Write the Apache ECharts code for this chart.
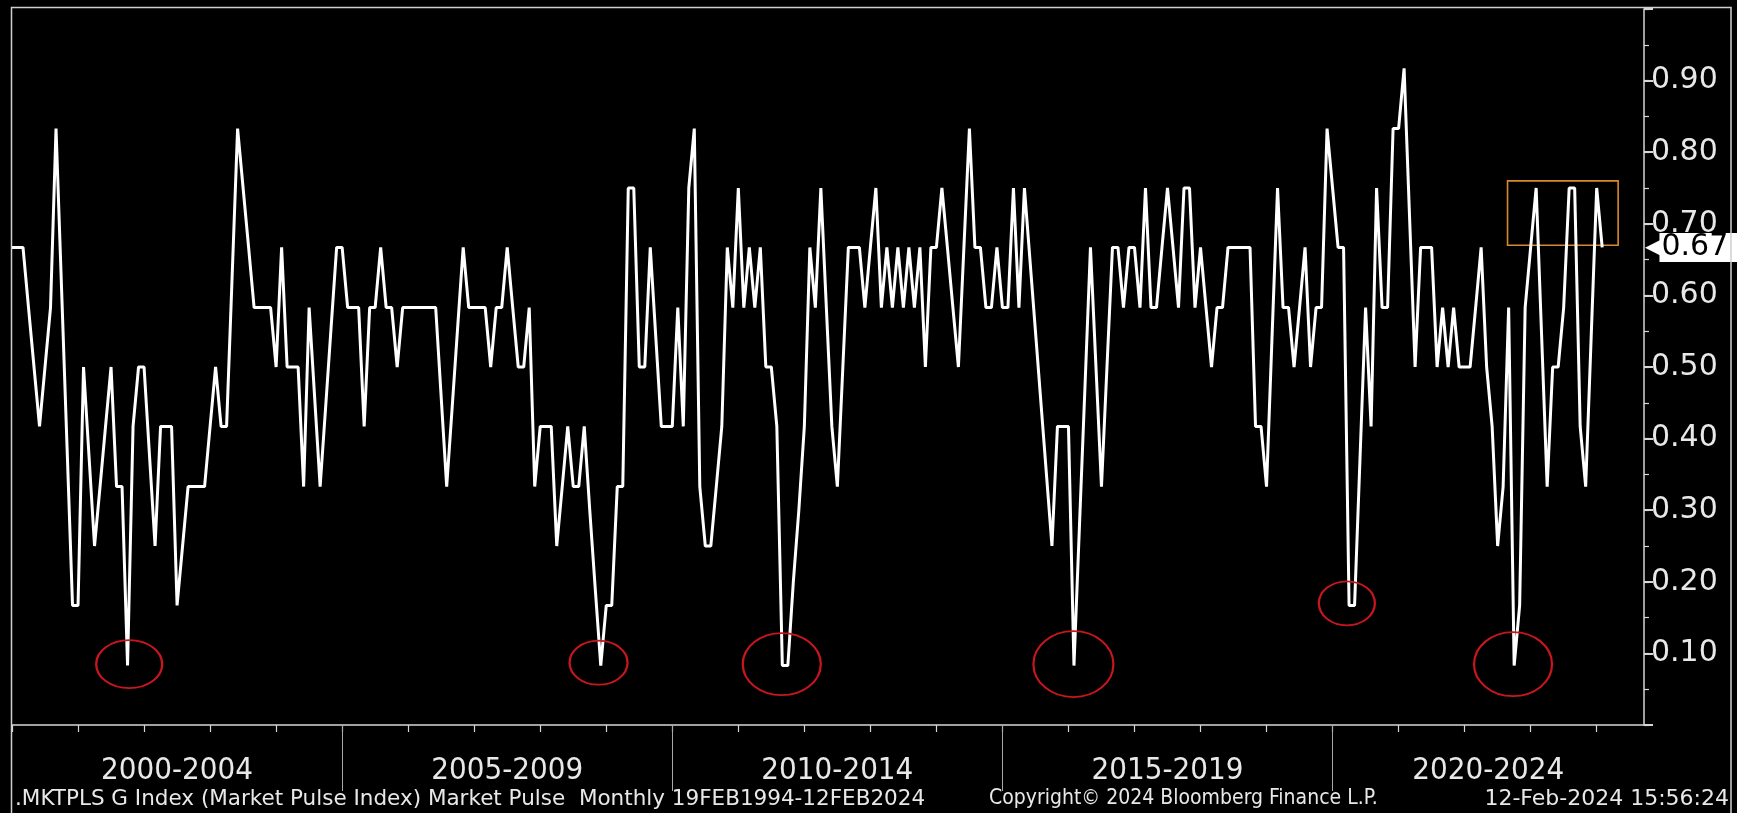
<!DOCTYPE html>
<html>
<head>
<meta charset="utf-8">
<script src="https://cdn.jsdelivr.net/npm/echarts@6/dist/echarts.min.js"></script>
<style>
html,body{margin:0;padding:0;background:#000;}
#c{width:1737px;height:813px;}
</style>
</head>
<body>
<div id="c"></div>
<script>
// Monthly Market Pulse Index readings, first value = Dec 1999, last = Jan 2024
const firstMonth = '1999-12';
const values = [
  0.667,0.667,0.667,0.583,0.5,0.417,0.5,0.583,0.833,0.611,0.389,0.167,0.167,
  0.5,0.375,0.25,0.333,0.417,0.5,0.333,0.333,0.083,0.417,0.5,0.5,
  0.375,0.25,0.417,0.417,0.417,0.167,0.25,0.333,0.333,0.333,0.333,0.417,
  0.5,0.417,0.417,0.625,0.833,0.75,0.667,0.583,0.583,0.583,0.583,0.5,
  0.667,0.5,0.5,0.5,0.333,0.583,0.458,0.333,0.444,0.556,0.667,0.667,
  0.583,0.583,0.583,0.417,0.583,0.583,0.667,0.583,0.583,0.5,0.583,0.583,
  0.583,0.583,0.583,0.583,0.583,0.458,0.333,0.444,0.556,0.667,0.583,0.583,
  0.583,0.583,0.5,0.583,0.583,0.667,0.583,0.5,0.5,0.583,0.333,0.417,
  0.417,0.417,0.25,0.333,0.417,0.333,0.333,0.417,0.3,0.19,0.083,0.167,
  0.167,0.333,0.333,0.75,0.75,0.5,0.5,0.667,0.542,0.417,0.417,0.417,
  0.583,0.417,0.75,0.833,0.333,0.25,0.25,0.333,0.417,0.667,0.583,0.75,
  0.583,0.667,0.583,0.667,0.5,0.5,0.417,0.083,0.083,0.2,0.3,0.417,
  0.667,0.583,0.75,0.583,0.417,0.333,0.5,0.667,0.667,0.667,0.583,0.667,
  0.75,0.583,0.667,0.583,0.667,0.583,0.667,0.583,0.667,0.5,0.667,0.667,
  0.75,0.667,0.583,0.5,0.667,0.833,0.667,0.667,0.583,0.583,0.667,0.583,
  0.583,0.75,0.583,0.75,0.65,0.55,0.45,0.35,0.25,0.417,0.417,0.417,
  0.083,0.278,0.472,0.667,0.5,0.333,0.5,0.667,0.667,0.583,0.667,0.667,
  0.583,0.75,0.583,0.583,0.667,0.75,0.667,0.583,0.75,0.75,0.583,0.667,
  0.583,0.5,0.583,0.583,0.667,0.667,0.667,0.667,0.667,0.417,0.417,0.333,
  0.542,0.75,0.583,0.583,0.5,0.583,0.667,0.5,0.583,0.583,0.833,0.75,
  0.667,0.667,0.167,0.167,0.375,0.583,0.417,0.75,0.583,0.583,0.833,0.833,
  0.917,0.708,0.5,0.667,0.667,0.667,0.5,0.583,0.5,0.583,0.5,0.5,
  0.5,0.583,0.667,0.5,0.417,0.25,0.333,0.583,0.083,0.167,0.583,0.667,
  0.75,0.542,0.333,0.5,0.5,0.583,0.75,0.75,0.417,0.333,0.542,0.75,
  0.667
];
// Period labels along the time axis and the month index (from Dec 1999) of each label centre
const periodLabels = ['2000-2004','2005-2009','2010-2014','2015-2019','2020-2024'];
const periodCentres = [30, 90, 150, 210, 268.3];
// Circled troughs: [month index, value]
const troughMarks = [[21.3,0.085],[106.6,0.087],[139.9,0.085],[192.9,0.085],[242.6,0.17],[272.8,0.085]];
const troughSizes = [[66,48],[58,44],[78,62],[80,66],[56,44],[78,64]];
// Highlighted recent range: [month from, month to, value low, value high]
const boxRange = [271.8, 291.9, 0.67, 0.76];

const footerLeft = '.MKTPLS G Index (Market Pulse Index) Market Pulse  Monthly 19FEB1994-12FEB2024';
const footerMid = 'Copyright\u00A9 2024 Bloomberg Finance L.P.';
const footerRight = '12-Feb-2024 15:56:24';

const lastValue = values[values.length - 1];
const yearTicks = [];
for (let m = 0; m <= 288; m += 12) yearTicks.push(m);
const dividerTicks = [60, 120, 180, 240];

const axisCol = '#D6D6D6';
const textCol = '#E8E8E8';
const condFont = '"DejaVu Sans Condensed", "DejaVu Sans", sans-serif';
const wideFont = '"DejaVu Sans", sans-serif';
const xMax = 296.6;

const chart = echarts.init(document.getElementById('c'), null, {renderer: 'canvas'});
chart.setOption({
  backgroundColor: '#000000',
  animation: false,
  grid: {left: 12, right: 93, top: 9, bottom: 88, containLabel: false, outerBoundsMode: 'none'},
  xAxis: [
    {
      type: 'value', min: 0, max: xMax, position: 'bottom',
      axisLine: {show: true, onZero: false, lineStyle: {color: axisCol, width: 1.5}},
      axisTick: {show: true, customValues: yearTicks, length: 7, inside: false, lineStyle: {color: axisCol, width: 1.2}},
      axisLabel: {
        show: true, customValues: periodCentres, margin: 30,
        color: textCol, fontSize: 31, fontFamily: condFont,
        formatter: function (v) {
          for (let k = 0; k < periodCentres.length; k++) {
            if (Math.abs(periodCentres[k] - v) < 0.5) return periodLabels[k];
          }
          return '';
        }
      },
      splitLine: {show: false}
    },
    {
      type: 'value', min: 0, max: xMax, position: 'bottom',
      axisLine: {show: false, onZero: false},
      axisTick: {show: true, customValues: dividerTicks, length: 66, lineStyle: {color: '#A8A8A8', width: 1}},
      axisLabel: {show: false},
      splitLine: {show: false}
    }
  ],
  yAxis: [
    {
      type: 'value', min: 0, max: 1, interval: 0.1, position: 'right',
      axisLine: {show: true, onZero: false, lineStyle: {color: axisCol, width: 1.5}},
      axisTick: {show: true, length: 9, lineStyle: {color: axisCol, width: 2}},
      minorTick: {show: false},
      axisLabel: {
        show: true, margin: 7, color: textCol, fontSize: 30, fontFamily: wideFont,
        formatter: function (v) { return (v > 0.001 && v < 0.999) ? v.toFixed(2) : ''; }
      },
      splitLine: {show: false}
    },
    {
      type: 'value', min: 0, max: 1, interval: 0.05, position: 'right',
      axisLine: {show: false, onZero: false},
      axisTick: {show: true, length: 5, lineStyle: {color: axisCol, width: 1.2}},
      axisLabel: {show: false},
      splitLine: {show: false}
    },
    {
      type: 'value', min: 0, max: 1, position: 'right',
      axisLine: {show: false, onZero: false}, axisTick: {show: false}, splitLine: {show: false},
      axisLabel: {
        show: true, customValues: [lastValue], margin: 1,
        formatter: function (v) { return '{a|\u25C0}{b|' + v.toFixed(2) + '}'; },
        rich: {
          a: {color: '#FFFFFF', fontSize: 24, fontFamily: wideFont, lineHeight: 29, padding: [0, -4, 0, 0]},
          b: {color: '#000000', backgroundColor: '#FFFFFF', fontSize: 30, fontFamily: wideFont, lineHeight: 29, height: 29, padding: [0, 24, 0, 2]}
        }
      }
    }
  ],
  series: [{
    type: 'line',
    xAxisIndex: 0, yAxisIndex: 0,
    data: values.map(function (v, i) { return [i, v]; }),
    showSymbol: false, symbol: 'none',
    lineStyle: {color: '#FFFFFF', width: 3},
    markArea: {
      silent: true,
      itemStyle: {color: 'rgba(0,0,0,0)', borderColor: '#D98A2B', borderWidth: 1.6},
      data: [[{coord: [boxRange[0], boxRange[3]]}, {coord: [boxRange[1], boxRange[2]]}]]
    },
    markPoint: {
      silent: true,
      symbol: 'circle',
      label: {show: false},
      itemStyle: {color: 'rgba(0,0,0,0)', borderColor: '#C8161E', borderWidth: 2},
      data: troughMarks.map(function (p, k) { return {coord: p, symbolSize: troughSizes[k]}; })
    }
  }],
  graphic: [
    {type: 'rect', silent: true, shape: {x: 11.5, y: 7.5, width: 1719.5, height: 812}, style: {fill: 'none', stroke: '#CFCFCF', lineWidth: 1.5}, z: 100},
    {type: 'text', silent: true, x: 15, y: 799, style: {text: footerLeft, fill: textCol, font: '21.5px ' + wideFont, textVerticalAlign: 'middle', textAlign: 'left'}},
    {type: 'text', silent: true, x: 989, y: 799, style: {text: footerMid, fill: textCol, font: '21px ' + condFont, textVerticalAlign: 'middle', textAlign: 'left'}},
    {type: 'text', silent: true, x: 1729, y: 799, style: {text: footerRight, fill: textCol, font: '22px ' + wideFont, textVerticalAlign: 'middle', textAlign: 'right'}}
  ]
});
</script>
</body>
</html>
